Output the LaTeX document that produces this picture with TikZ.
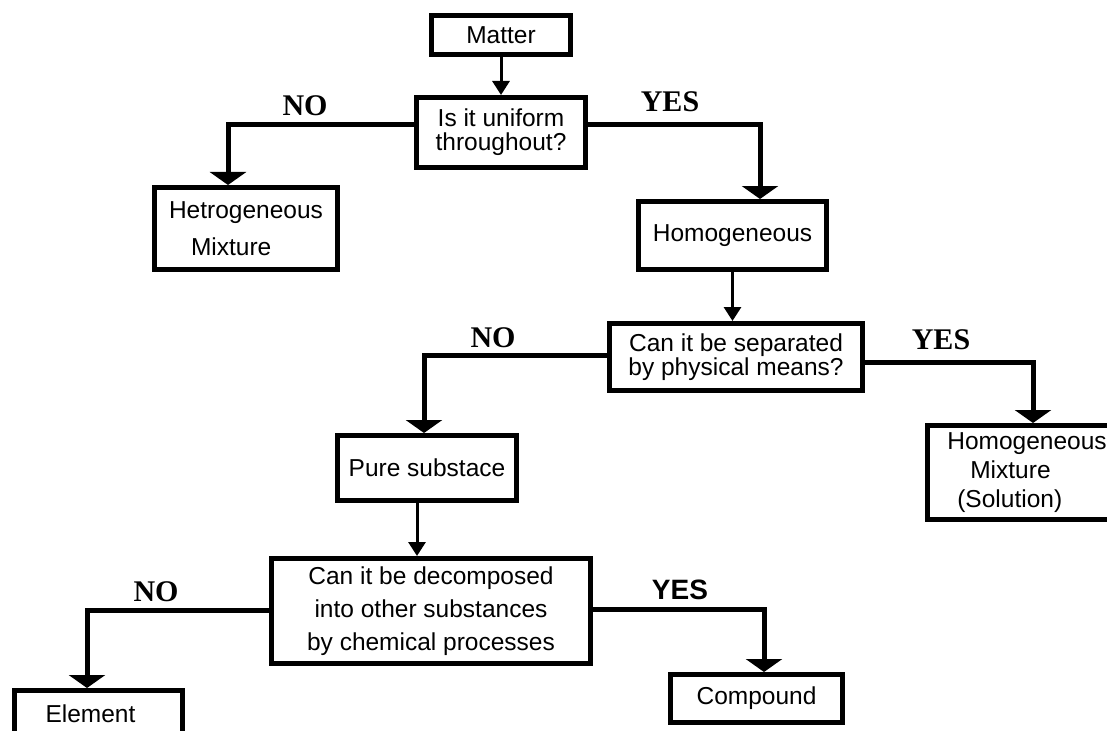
\documentclass[tikz,border=0pt]{standalone}
\usepackage{fontspec}
\setmainfont{Liberation Sans}
\newfontfamily\ansfont{Liberation Serif}
\usetikzlibrary{arrows.meta}

\tikzset{
  box/.style={draw, line width=5pt, inner sep=0pt, align=center,
    font=\fontsize{24.5}{24}\selectfont},
  flow/.style={line width=5pt, -{Triangle[width=36pt,length=13pt]}},
  feed/.style={line width=3pt, -{Triangle[width=17pt,length=14pt]}},
  ans/.style={font=\ansfont\bfseries\fontsize{30}{30}\selectfont},
  anssans/.style={font=\bfseries\fontsize{28}{28}\selectfont},
}

\begin{document}
\begin{tikzpicture}[x=1pt, y=-1pt]
    \useasboundingbox (0,0) rectangle (1107,730);
    \clip (0,0) rectangle (1107,730);

    % boxes
    \node[box, minimum width=139pt, minimum height=39pt] (m) at (501,35) {Matter};
    \node[box, minimum width=169pt, minimum height=70pt] (q1) at (501,132.5) {Is it uniform\\throughout?};
    \node[box, minimum width=183pt, minimum height=82pt, align=left,
          font=\fontsize{24.5}{37}\selectfont] (het) at (246,228.5) {Hetrogeneous\\\hspace*{22pt}Mixture};
    \node[box, minimum width=188pt, minimum height=68pt] (hom) at (732.5,235.5) {Homogeneous};
    \node[box, minimum width=253pt, minimum height=67pt] (q2) at (736,357) {Can it be separated\\by physical means?};
    \node[box, minimum width=179pt, minimum height=65pt] (pure) at (427,468) {Pure substace};
    \node[box, minimum width=199pt, minimum height=94pt, align=left,
          font=\fontsize{24.5}{29}\selectfont] (hmix) at (1027,472.5) {Homogeneous\\\hspace*{23pt}Mixture\\\hspace*{10pt}(Solution)};
    \node[box, minimum width=319pt, minimum height=105pt,
          font=\fontsize{24.5}{33}\selectfont] (q3) at (431,611) {Can it be decomposed\\into other substances\\by chemical processes};
    \node[box, minimum width=168pt, minimum height=82pt] (el) at (98.5,731.5) {};
    \node[anchor=base west, font=\fontsize{24.5}{24}\selectfont] (eltext) at (42,722) {Element};
    \node[box, minimum width=172pt, minimum height=48pt] (comp) at (756.5,698.5) {Compound};

    % corners of the branch lines
    \coordinate (c1no) at (228,125);
    \coordinate (c1yes) at (760,125);
    \coordinate (c2no) at (424,355);
    \coordinate (c2yes) at (1033,362);
    \coordinate (c3no) at (87,610);
    \coordinate (c3yes) at (764,609);
    \coordinate (pdrop) at (417,503);

    \draw[feed] (m.south) -- (q1.north);
    \draw[flow] (q1.west |- c1no) -- (c1no) -- (het.north -| c1no);
    \draw[flow] (q1.east |- c1yes) -- (c1yes) -- (hom.north -| c1yes);
    \draw[feed] (hom.south) -- (hom.south |- q2.north);
    \draw[flow] (q2.west |- c2no) -- (c2no) -- (pure.north -| c2no);
    \draw[flow] (q2.east |- c2yes) -- (c2yes) -- (hmix.north -| c2yes);
    \draw[feed] (pure.south -| pdrop) -- (q3.north -| pdrop);
    \draw[flow] (q3.west |- c3no) -- (c3no) -- (el.north -| c3no);
    \draw[flow] (q3.east |- c3yes) -- (c3yes) -- (comp.north -| c3yes);

    % answers
    \node[ans] (no1) at (305,106) {NO};
    \node[ans] (yes1) at (670,102) {YES};
    \node[ans] (no2) at (493,338) {NO};
    \node[ans] (yes2) at (941,340) {YES};
    \node[ans] (no3) at (156,592) {NO};
    \node[anssans] (yes3) at (680,590) {YES};
\end{tikzpicture}
\end{document}
